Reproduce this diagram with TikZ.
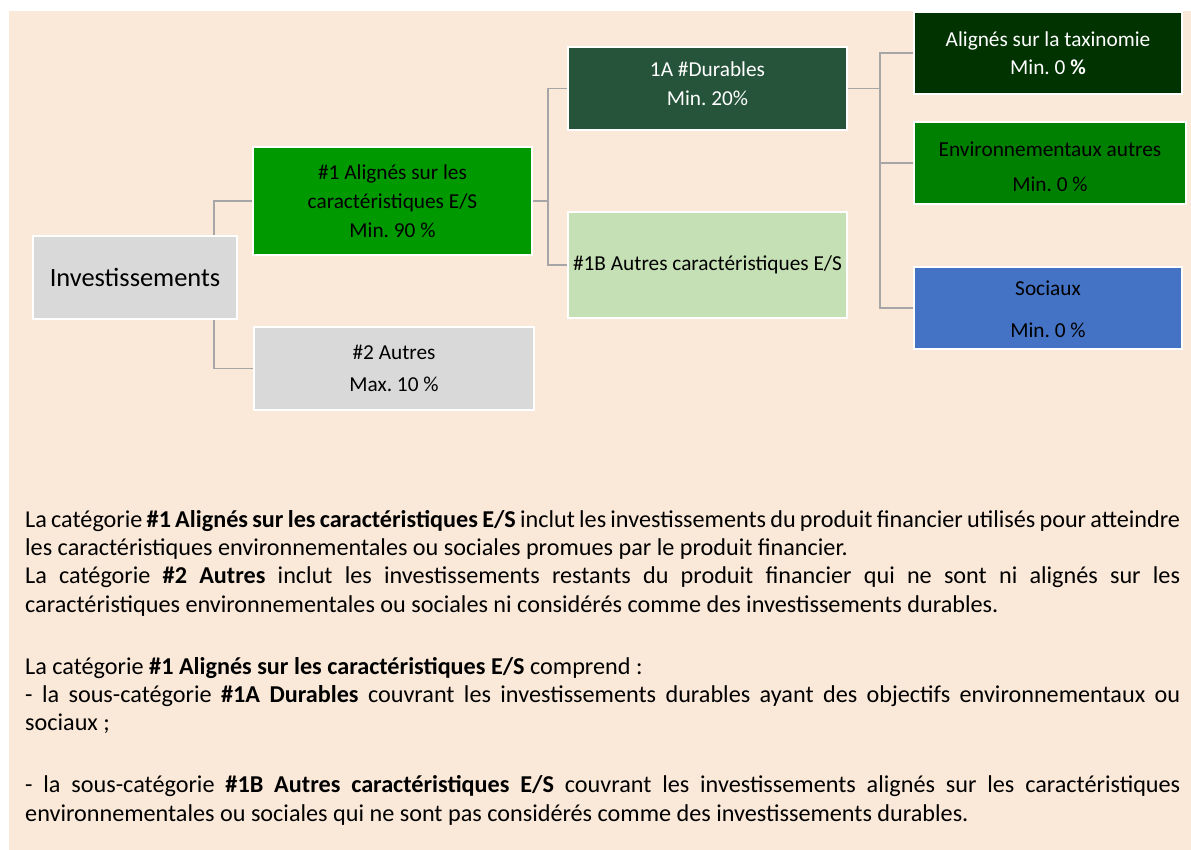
\documentclass[tikz,border=0pt]{standalone}
\usepackage{fontspec}
\setmainfont{Carlito}
\usepackage{tikz}
\usetikzlibrary{positioning}
\frenchspacing
\definecolor{bgpeach}{HTML}{FAE8D8}
\definecolor{boxgray}{HTML}{D9D9D9}
\definecolor{linkgray}{HTML}{A6A6A6}
\definecolor{esgreen}{HTML}{009900}
\definecolor{durgreen}{HTML}{26543A}
\definecolor{lightgreen}{HTML}{C5E0B4}
\definecolor{taxgreen}{HTML}{003300}
\definecolor{envgreen}{HTML}{008000}
\definecolor{socblue}{HTML}{4472C4}

\begin{document}
\begin{tikzpicture}[x=1pt,y=1pt,
  box/.style={draw=white, line width=2pt, outer sep=1pt, inner sep=0pt,
    align=center, text=black, font=\fontsize{21.3}{29}\selectfont},
  link/.style={draw=linkgray, line width=1.4pt}]
\useasboundingbox (0,0) rectangle (1191,850);
\fill[bgpeach] (9,0) rectangle (1191,839);

\node[box, fill=boxgray, minimum width=204pt, minimum height=83pt,
  font=\fontsize{26.4}{32}\selectfont] (inv) at (135,572.5) {Investissements};
\node[box, fill=esgreen, minimum width=279pt, minimum height=108pt,
  right=14pt of inv, yshift=76.5pt] (align) {\#1 Alignés sur les\\caractéristiques E/S\\Min. 90 \%};
\node[box, fill=boxgray, minimum width=280pt, minimum height=83pt,
  right=15pt of inv, yshift=-91pt] (other) {\#2 Autres\\[3pt]Max. 10 \%};

\node[box, fill=durgreen, text=white, minimum width=279pt, minimum height=83pt,
  text depth=10pt, right=34pt of align, yshift=112.5pt] (dur) {1A \#Durables\\Min. 20\%};
\node[box, fill=lightgreen, minimum width=279pt, minimum height=106pt,
  right=34pt of align, yshift=-64pt] (es) {\#1B Autres caractéristiques E/S};

\node[box, fill=taxgreen, text=white, minimum width=268pt, minimum height=82pt,
  right=65pt of dur, yshift=35.5pt] (taxo) {Alignés sur la taxinomie\\[-1pt]Min. 0 \textbf{\%}};
\node[box, fill=envgreen, minimum width=272pt, minimum height=82pt,
  right=65pt of dur, yshift=-74.5pt] (env) {\rule{0pt}{22pt}Environnementaux autres\\[6pt]Min. 0 \%};
\node[box, fill=socblue, minimum width=268pt, minimum height=82pt,
  right=65pt of dur, yshift=-219.5pt] (soc) {\rule{0pt}{18pt}Sociaux\\[13pt]Min. 0 \%};

\coordinate (jinv) at ([xshift=-24pt]inv.north east);
\coordinate (jalign) at ([xshift=15pt]align.east);
\coordinate (jdur) at ([xshift=32pt]dur.east);
\draw[link] (jinv) |- (align.west);
\draw[link] (jinv |- inv.south) |- (other.west);
\draw[link] (align.east) -- (jalign);
\draw[link] (jalign) |- (dur.west);
\draw[link] (jalign) |- (es.west);
\draw[link] (dur.east) -- (jdur) |- (taxo.west);
\draw[link] (jdur) |- (env.west);
\draw[link] (jdur) |- (soc.west);

\node[anchor=north west, inner sep=0pt, text width=1155pt, align=justify,
  font=\fontsize{24.2}{28.3}\selectfont] (notes) at (25,340) {%
\hyphenpenalty=10000 \exhyphenpenalty=10000
La catégorie \textbf{\#1 Alignés sur les caractéristiques E/S} inclut les investissements du produit financier utilisés pour atteindre\linebreak
les caractéristiques environnementales ou sociales promues par le produit financier.\\
La catégorie \textbf{\#2 Autres} inclut les investissements restants du produit financier qui ne sont ni alignés sur les\linebreak
caractéristiques environnementales ou sociales ni considérés comme des investissements durables.\\[33.7pt]
La catégorie \textbf{\#1 Alignés sur les caractéristiques E/S} comprend~:\\
- la sous-catégorie \textbf{\#1A Durables} couvrant les investissements durables ayant des objectifs environnementaux ou\linebreak
sociaux~;\\[33.7pt]
- la sous-catégorie \textbf{\#1B Autres caractéristiques E/S} couvrant les investissements alignés sur les caractéristiques\linebreak
environnementales ou sociales qui ne sont pas considérés comme des investissements durables.};
\end{tikzpicture}
\end{document}
